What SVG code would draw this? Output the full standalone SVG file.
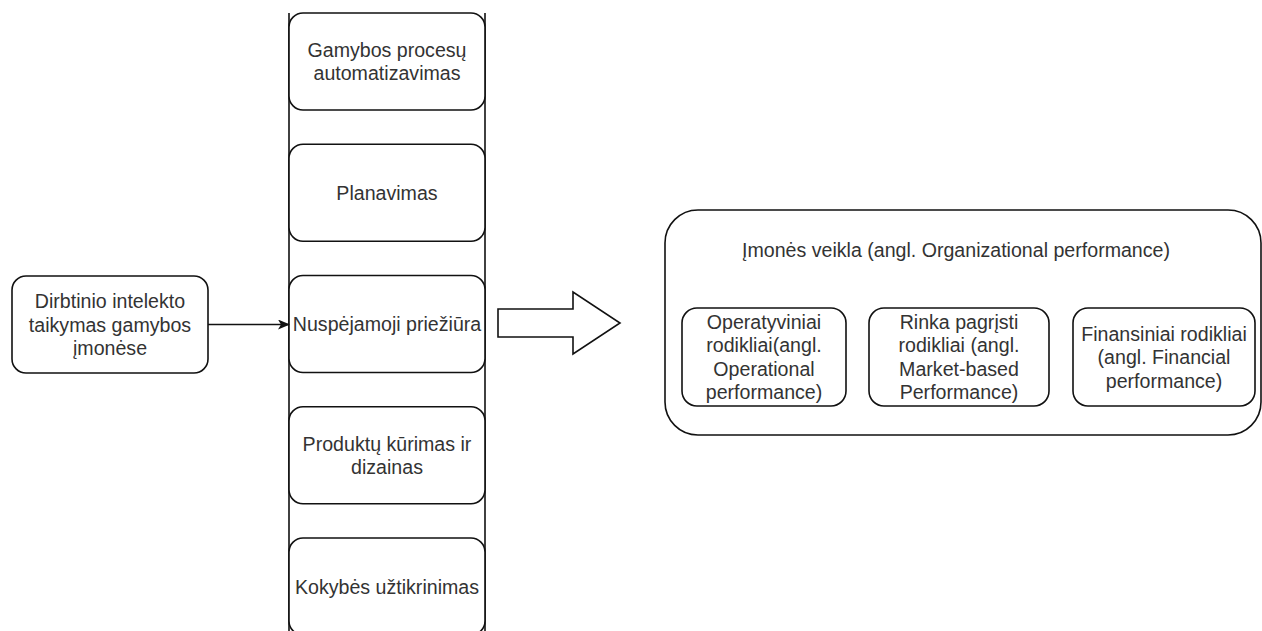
<svg xmlns="http://www.w3.org/2000/svg" width="1262" height="631" viewBox="0 0 1262 631">
  <style>
    .box { fill: #ffffff; stroke: #111111; stroke-width: 1.6; }
    .edge { fill: none; stroke: #111111; stroke-width: 1.6; }
    .lbl { font-family: "Liberation Sans", Arial, sans-serif; font-size: 19.6px; fill: #333333; text-anchor: middle; dominant-baseline: central; }
  </style>
  <defs>
    <marker id="arrowhead" viewBox="0 0 12 10" refX="11" refY="5" markerWidth="12" markerHeight="10" markerUnits="userSpaceOnUse" orient="auto">
      <path d="M0,0 L12,5 L0,10 L3,5 Z" fill="#111111"/>
    </marker>
  </defs>
  <rect width="1262" height="631" fill="#ffffff"/>

  <!-- Source node -->
  <g id="node-ai">
    <rect class="box" x="12" y="276" width="196" height="97" rx="14" ry="14"/>
    <text class="lbl" x="110" y="301">Dirbtinio intelekto</text>
    <text class="lbl" x="110" y="324.5">taikymas gamybos</text>
    <text class="lbl" x="110" y="348">įmonėse</text>
  </g>

  <!-- Application areas column -->
  <g id="column-frame">
    <line class="edge" x1="289" y1="13" x2="289" y2="631"/>
    <line class="edge" x1="485" y1="13" x2="485" y2="631"/>
  </g>
  <g id="node-automation">
    <rect class="box" x="289" y="13" width="196" height="97" rx="14" ry="14"/>
    <text class="lbl" x="387" y="49.75">Gamybos procesų</text>
    <text class="lbl" x="387" y="73.25">automatizavimas</text>
  </g>
  <g id="node-planning">
    <rect class="box" x="289" y="144.25" width="196" height="97" rx="14" ry="14"/>
    <text class="lbl" x="387" y="192.75">Planavimas</text>
  </g>
  <g id="node-maintenance">
    <rect class="box" x="289" y="275.5" width="196" height="97" rx="14" ry="14"/>
    <text class="lbl" x="387" y="324">Nuspėjamoji priežiūra</text>
  </g>
  <g id="node-design">
    <rect class="box" x="289" y="406.75" width="196" height="97" rx="14" ry="14"/>
    <text class="lbl" x="387" y="443.5">Produktų kūrimas ir</text>
    <text class="lbl" x="387" y="467">dizainas</text>
  </g>
  <g id="node-quality">
    <rect class="box" x="289" y="538" width="196" height="97" rx="14" ry="14"/>
    <text class="lbl" x="387" y="586.5">Kokybės užtikrinimas</text>
  </g>

  <!-- Connectors -->
  <g id="connectors">
    <line class="edge" x1="208" y1="324.5" x2="289" y2="324.5" marker-end="url(#arrowhead)"/>
    <polygon class="box" points="498,309 573,309 573,292 620,323 573,354 573,337 498,337"/>
  </g>

  <!-- Organizational performance container -->
  <g id="node-performance">
    <rect class="box" x="665" y="210" width="596" height="225" rx="33" ry="33"/>
    <text class="lbl" x="956" y="250">Įmonės veikla (angl. Organizational performance)</text>
  </g>
  <g id="node-operational">
    <rect class="box" x="682" y="308" width="164" height="98" rx="15" ry="15"/>
    <text class="lbl" x="764" y="321.75">Operatyviniai</text>
    <text class="lbl" x="764" y="345.25">rodikliai(angl.</text>
    <text class="lbl" x="764" y="368.75">Operational</text>
    <text class="lbl" x="764" y="392.25">performance)</text>
  </g>
  <g id="node-market">
    <rect class="box" x="869" y="308" width="180" height="98" rx="15" ry="15"/>
    <text class="lbl" x="959" y="321.75">Rinka pagrįsti</text>
    <text class="lbl" x="959" y="345.25">rodikliai (angl.</text>
    <text class="lbl" x="959" y="368.75">Market-based</text>
    <text class="lbl" x="959" y="392.25">Performance)</text>
  </g>
  <g id="node-financial">
    <rect class="box" x="1073" y="308" width="182" height="98" rx="15" ry="15"/>
    <text class="lbl" x="1164" y="333.5">Finansiniai rodikliai</text>
    <text class="lbl" x="1164" y="357">(angl. Financial</text>
    <text class="lbl" x="1164" y="380.5">performance)</text>
  </g>
</svg>
